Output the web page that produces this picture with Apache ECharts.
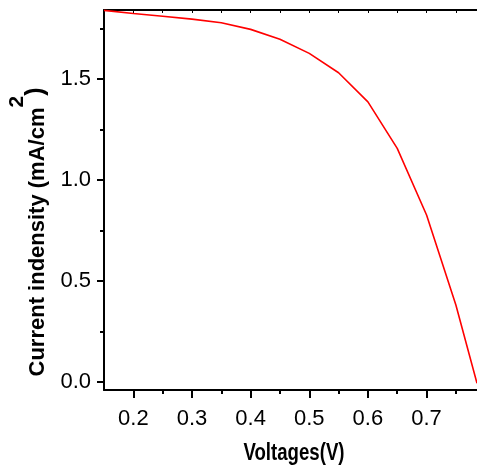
<!DOCTYPE html>
<html><head><meta charset="utf-8">
<script src="https://cdn.jsdelivr.net/npm/echarts@6/dist/echarts.min.js"></script>
<style>html,body{margin:0;padding:0;background:#fff}#c{width:477px;height:469px}</style>
</head><body><div id="c"></div>
<script>
const voltages = [0.15, 0.20, 0.25, 0.30, 0.35, 0.40, 0.45, 0.50, 0.55, 0.60, 0.65, 0.70, 0.75, 0.786];
const currents = [1.840, 1.825, 1.811, 1.797, 1.779, 1.746, 1.697, 1.627, 1.531, 1.387, 1.156, 0.826, 0.380, -0.008];
const xMajorTicks = [0.2, 0.3, 0.4, 0.5, 0.6, 0.7];
const xMinorTicks = [0.25, 0.35, 0.45, 0.55, 0.65, 0.75];
const xTopTicks = [0.2, 0.25, 0.3, 0.35, 0.4, 0.45, 0.5, 0.55, 0.6, 0.65, 0.7, 0.75];
const yMajorTicks = [0, 0.5, 1.0, 1.5];
const yMinorTicks = [0.25, 0.75, 1.25, 1.75];
const xTitle = 'Voltages(V)';
const yTitleMain = 'Current indensity (mA/cm';
const yTitleSup = '2';
const yTitleEnd = ')';

const X_MIN = 0.15, X_MAX = 0.786, Y_MIN = -0.041, Y_MAX = 1.842;
const FONT = '"Liberation Sans", Arial, sans-serif';

const chart = echarts.init(document.getElementById('c'), null, {renderer: 'canvas'});
const lineStyle = {color: '#000', width: 2};
chart.setOption({
  animation: false,
  backgroundColor: '#fff',
  grid: {left: 104, top: 10, right: 0, bottom: 79, containLabel: false},
  xAxis: [
    {type: 'value', position: 'bottom', min: X_MIN, max: X_MAX,
     axisLine: {show: true, onZero: false, lineStyle: lineStyle},
     axisTick: {show: true, inside: false, length: 8, customValues: xMajorTicks, lineStyle: {color: '#000', width: 2}},
     axisLabel: {show: true, customValues: xMajorTicks, margin: 18, fontSize: 22, fontFamily: FONT, color: '#000',
                 formatter: v => v.toFixed(1)},
     splitLine: {show: false}},
    {type: 'value', position: 'bottom', min: X_MIN, max: X_MAX,
     axisLine: {show: false, onZero: false},
     axisTick: {show: true, inside: false, length: 4, customValues: xMinorTicks, lineStyle: {color: '#000', width: 2}},
     axisLabel: {show: false}, splitLine: {show: false}},
    {type: 'value', position: 'top', min: X_MIN, max: X_MAX,
     axisLine: {show: true, onZero: false, lineStyle: lineStyle},
     axisTick: {show: true, inside: true, length: 3, customValues: xTopTicks, lineStyle: {color: '#000', width: 1}},
     axisLabel: {show: false}, splitLine: {show: false}}
  ],
  yAxis: [
    {type: 'value', position: 'left', min: Y_MIN, max: Y_MAX,
     axisLine: {show: true, onZero: false, lineStyle: lineStyle},
     axisTick: {show: true, inside: false, length: 7, customValues: yMajorTicks, lineStyle: {color: '#000', width: 2}},
     axisLabel: {show: true, customValues: yMajorTicks, margin: 13, fontSize: 22, fontFamily: FONT, color: '#000',
                 formatter: v => v.toFixed(1)},
     splitLine: {show: false}},
    {type: 'value', position: 'left', min: Y_MIN, max: Y_MAX,
     axisLine: {show: false, onZero: false},
     axisTick: {show: true, inside: false, length: 4, customValues: yMinorTicks, lineStyle: {color: '#000', width: 2}},
     axisLabel: {show: false}, splitLine: {show: false}}
  ],
  series: [{
    type: 'line', xAxisIndex: 0, yAxisIndex: 0,
    data: voltages.map((v, i) => [v, currents[i]]),
    showSymbol: false, symbol: 'none', clip: true,
    lineStyle: {color: '#ff0000', width: 1.6}
  }],
  graphic: [
    {type: 'text', x: 294, y: 454, scaleX: 0.81, z: 10,
     style: {text: xTitle, font: 'bold 23px ' + FONT, fill: '#000', align: 'center', verticalAlign: 'middle'}},
    {type: 'text', x: 28, y: 232, rotation: Math.PI / 2, z: 10,
     style: {text: '{a|' + yTitleMain + '}{s|' + yTitleSup + '}{p|' + yTitleEnd + '}',
             align: 'center', verticalAlign: 'middle', fill: '#000',
             rich: {
               a: {font: 'bold 22px ' + FONT, fill: '#000', lineHeight: 26, verticalAlign: 'bottom'},
               s: {font: 'bold 21px ' + FONT, fill: '#000', lineHeight: 42, verticalAlign: 'top'},
               p: {font: 'bold 25px ' + FONT, fill: '#000', lineHeight: 28, verticalAlign: 'bottom'}
             }}}
  ]
});
</script></body></html>
